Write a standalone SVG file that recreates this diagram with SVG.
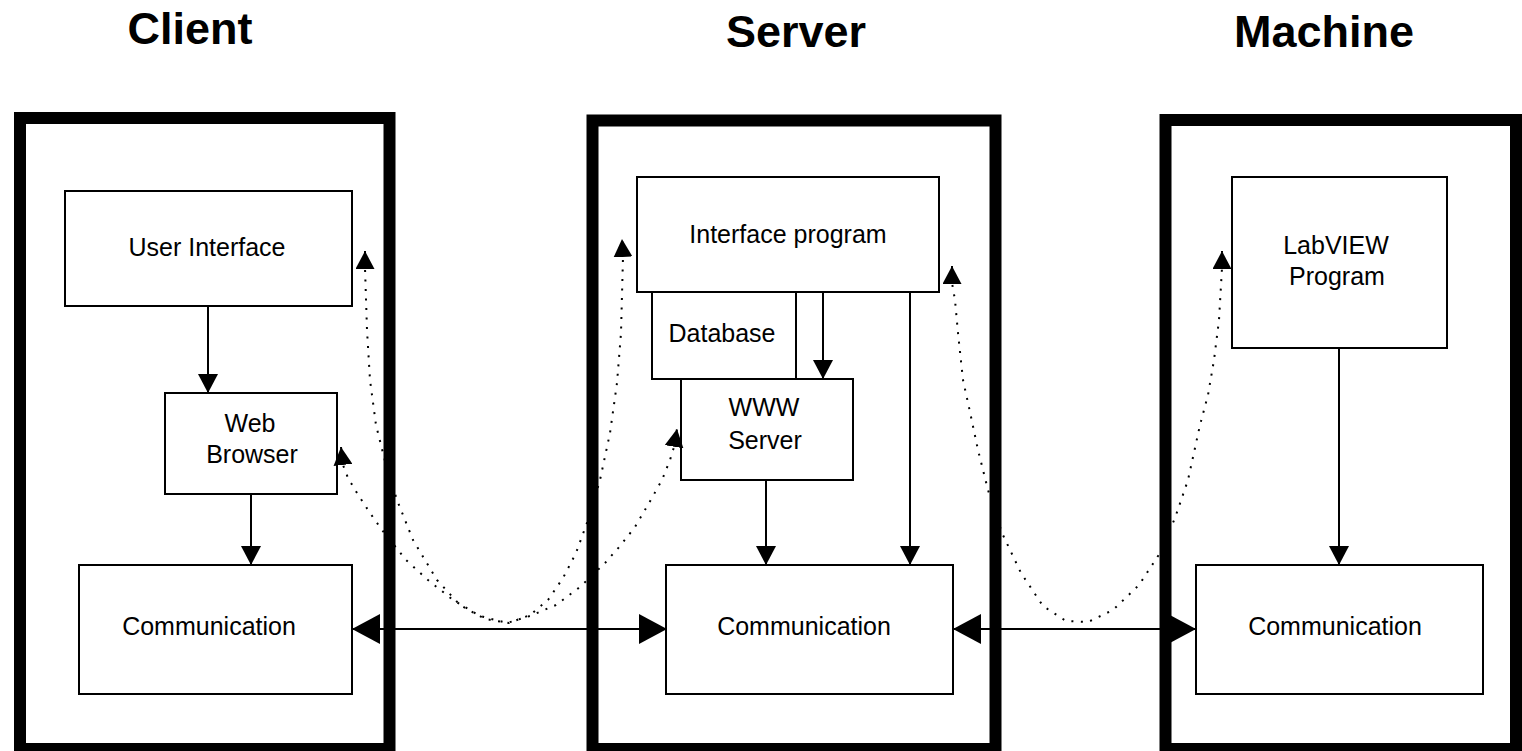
<svg xmlns="http://www.w3.org/2000/svg" width="1522" height="751" viewBox="0 0 1522 751">
  <style>
    .frame { fill: none; stroke: #000; stroke-width: 12; }
    .box { fill: #fff; stroke: #000; stroke-width: 2; }
    .lbl { font-family: "Liberation Sans", Arial, sans-serif; font-size: 25px; fill: #000; text-anchor: middle; }
    .title { font-family: "Liberation Sans", Arial, sans-serif; font-size: 45px; font-weight: bold; fill: #000; text-anchor: middle; }
    .flow { fill: none; stroke: #000; stroke-width: 2; }
    .link { fill: none; stroke: #000; stroke-width: 2; }
    .dots { fill: none; stroke: #000; stroke-width: 2; stroke-dasharray: 2 7.5; stroke-linejoin: round; }
  </style>
  <defs>
    <marker id="arrowS" markerUnits="userSpaceOnUse" markerWidth="19" markerHeight="20" refX="19" refY="10" orient="auto" viewBox="0 0 19 20">
      <path d="M0,0 L19,10 L0,20 Z" fill="#000"/>
    </marker>
    <marker id="arrowL" markerUnits="userSpaceOnUse" markerWidth="28" markerHeight="30" refX="28" refY="15" orient="auto-start-reverse" viewBox="0 0 28 30">
      <path d="M0,0 L28,15 L0,30 Z" fill="#000"/>
    </marker>
    <marker id="arrowD" markerUnits="userSpaceOnUse" markerWidth="18" markerHeight="19" refX="18" refY="9.5" orient="auto-start-reverse" viewBox="0 0 18 19">
      <path d="M0,0 L18,9.5 L0,19 Z" fill="#000"/>
    </marker>
  </defs>

  <rect width="1522" height="751" fill="#fff"/>

  <!-- column titles -->
  <g id="titles">
    <text class="title" x="190" y="44">Client</text>
    <text class="title" x="796" y="47">Server</text>
    <text class="title" x="1324" y="47">Machine</text>
  </g>

  <!-- Client -->
  <g id="client">
    <rect class="frame" x="20" y="118" width="369.5" height="631"/>
  </g>
  <g id="user-interface">
    <rect class="box" x="65" y="191" width="287" height="115"/>
    <text class="lbl" x="207" y="256">User Interface</text>
  </g>
  <g id="web-browser">
    <rect class="box" x="165" y="393" width="172" height="101"/>
    <text class="lbl" x="250" y="432">Web</text>
    <text class="lbl" x="252" y="463">Browser</text>
  </g>
  <g id="client-communication">
    <rect class="box" x="79" y="565" width="273" height="129"/>
    <text class="lbl" x="209" y="635">Communication</text>
  </g>

  <!-- Server -->
  <g id="server">
    <rect class="frame" x="592.5" y="120.5" width="403" height="628.5"/>
  </g>
  <g id="interface-program">
    <rect class="box" x="637" y="177" width="302" height="115"/>
    <text class="lbl" x="788" y="243">Interface program</text>
  </g>
  <g id="database">
    <rect class="box" x="652" y="292" width="144" height="87"/>
    <text class="lbl" x="722" y="342">Database</text>
  </g>
  <g id="www-server">
    <rect class="box" x="681" y="379" width="172" height="101"/>
    <text class="lbl" x="764" y="416">WWW</text>
    <text class="lbl" x="765" y="449">Server</text>
  </g>
  <g id="server-communication">
    <rect class="box" x="666" y="565" width="287" height="129"/>
    <text class="lbl" x="804" y="635">Communication</text>
  </g>

  <!-- Machine -->
  <g id="machine">
    <rect class="frame" x="1165.5" y="120" width="350.5" height="629"/>
  </g>
  <g id="labview-program">
    <rect class="box" x="1232" y="177" width="215" height="171"/>
    <text class="lbl" x="1336" y="254">LabVIEW</text>
    <text class="lbl" x="1337" y="285">Program</text>
  </g>
  <g id="machine-communication">
    <rect class="box" x="1196" y="565" width="287" height="129"/>
    <text class="lbl" x="1335" y="635">Communication</text>
  </g>

  <!-- connectors -->
  <g id="connectors">
    <!-- data flow inside each computer -->
    <path class="flow" d="M208,306 L208,393" marker-end="url(#arrowS)"/>
    <path class="flow" d="M251,494 L251,565" marker-end="url(#arrowS)"/>
    <path class="flow" d="M823,292 L823,379" marker-end="url(#arrowS)"/>
    <path class="flow" d="M910,292 L910,565" marker-end="url(#arrowS)"/>
    <path class="flow" d="M766,480 L766,565" marker-end="url(#arrowS)"/>
    <path class="flow" d="M1339,348 L1339,565" marker-end="url(#arrowS)"/>

    <!-- network links between the communication layers -->
    <path class="link" d="M352,629 L667,629" marker-start="url(#arrowL)" marker-end="url(#arrowL)"/>
    <path class="link" d="M953,629 L1196,629" marker-start="url(#arrowL)" marker-end="url(#arrowL)"/>

    <!-- logical peer-to-peer paths -->
    <path class="dots" d="M365,251 L365,268 L367,330 L370,380 L376,425 L386,465 L397,500 L413,540 L437,580 L460,605 L485,619 L509,623 L530,615 L548,600 L563,578 L576,553 L588,520 L600,480 L610,433 L617,383 L621,333 L623,257 L622,239" marker-start="url(#arrowD)" marker-end="url(#arrowD)"/>
    <path class="dots" d="M341,447 L343,465 L348,478 L357,493 L370,513 L382,530 L406,560 L428,580 L453,600 L480,616 L507,623 L530,616 L556,605 L580,587 L605,563 L620,546 L635,527 L649,503 L662,480 L670,460 L674,447 L677,429" marker-start="url(#arrowD)" marker-end="url(#arrowD)"/>
    <path class="dots" d="M952,266 L952,283 L955,300 L958,333 L963,380 L970,412 L978,450 L988,490 L1002,533 L1021,573 L1043,606 L1066,621 L1088,622 L1113,610 L1139,585 L1160,553 L1175,518 L1188,480 L1200,425 L1208,395 L1214,360 L1219,320 L1222,268 L1222,251" marker-start="url(#arrowD)" marker-end="url(#arrowD)"/>
  </g>
</svg>
